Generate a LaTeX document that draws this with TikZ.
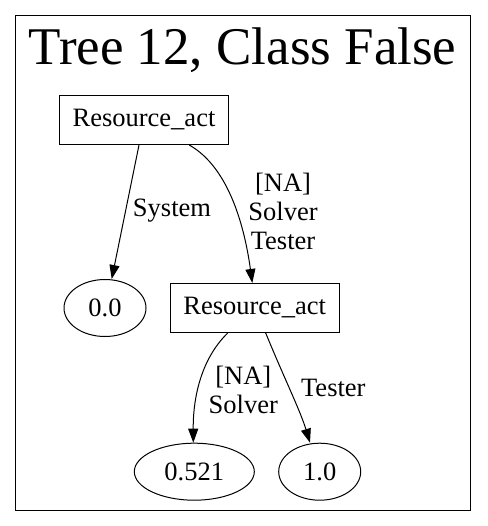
\documentclass[tikz,border=0pt]{standalone}
\usepackage{fontspec}
\setmainfont{Liberation Serif}
\usetikzlibrary{shapes.geometric,arrows.meta}
\begin{document}
\begin{tikzpicture}[x=1pt,y=-1pt,
  lbl/.style={font=\fontsize{26.5}{29}\selectfont, align=center, inner sep=0pt},
  splitbox/.style={draw, line width=1.1pt, minimum width=169pt, minimum height=49pt, inner sep=0pt, font=\fontsize{26.5}{29}\selectfont},
  leaf/.style={draw, ellipse, line width=1pt, inner sep=0pt, font=\fontsize{26.5}{29}\selectfont},
  arr/.style={line width=1pt, -{Triangle[length=14pt,width=10pt]}}]
\useasboundingbox (0,0) rectangle (487,526);
\node[draw, line width=1.2pt, minimum width=455pt, minimum height=494.5pt, inner sep=0pt] (frame) at (243.2,262.9) {};
\node[anchor=base, font=\fontsize{53}{60}\selectfont, inner sep=0pt] (title) at (242.5,65) {Tree 12, Class False};
\node[splitbox] (n1) at (144,120) {Resource\_act};
\node[splitbox] (n2) at (254.7,308) {Resource\_act};
\node[leaf, minimum width=82pt, minimum height=57pt] (l0) at (105,308) {0.0};
\node[leaf, minimum width=120pt, minimum height=57pt] (l1) at (194.3,471.7) {0.521};
\node[leaf, minimum width=82pt, minimum height=57pt] (l2) at (319.7,471.7) {1.0};
\draw[arr] ([xshift=-5pt]n1.south) -- ([xshift=6.7pt]l0.north);
\draw[arr] ([xshift=45.3pt]n1.south) .. controls (230,168) and (245,230) .. ([xshift=-2.4pt]n2.north);
\draw[arr] ([xshift=-27pt]n2.south) .. controls (200,360) and (193,400) .. ([xshift=-1pt]l1.north);
\draw[arr] ([xshift=11pt]n2.south) .. controls (285,380) and (300,410) .. ([xshift=-9.7pt]l2.north);
\node[lbl] (e1) at (172,211) {System};
\node[lbl] (e2) at (283,211) {[NA]\\Solver\\Tester};
\node[lbl] (e3) at (243.3,390) {[NA]\\Solver};
\node[lbl] (e4) at (333.3,388.3) {Tester};
\end{tikzpicture}
\end{document}
